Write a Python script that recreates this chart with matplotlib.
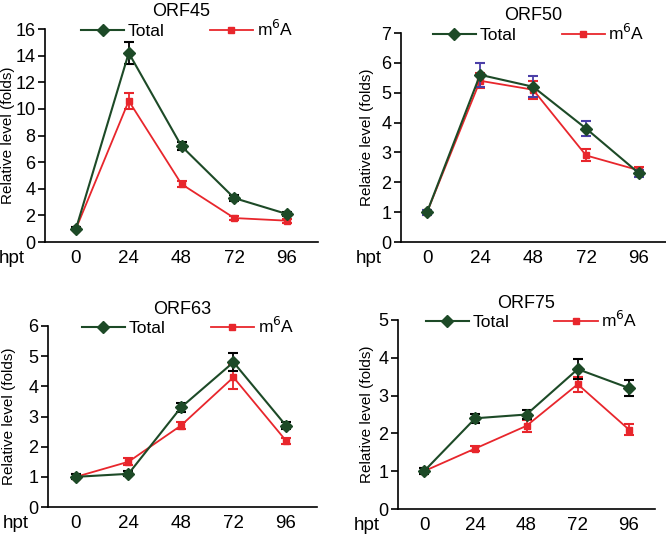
import numpy as np
import matplotlib.pyplot as plt
from matplotlib.lines import Line2D

plt.rcParams['font.family'] = ['Liberation Sans', 'DejaVu Sans']

hpt = [0, 24, 48, 72, 96]

# ORF45
orf45_total = [1.0, 14.2, 7.2, 3.3, 2.1]
orf45_total_err = [0.1, 0.8, 0.3, 0.2, 0.15]
orf45_m6a = [1.0, 10.6, 4.35, 1.8, 1.6]
orf45_m6a_err = [0.1, 0.6, 0.2, 0.15, 0.15]

# ORF50
orf50_total = [1.0, 5.6, 5.2, 3.8, 2.3]
orf50_total_err = [0.08, 0.4, 0.35, 0.25, 0.12]
orf50_m6a = [1.0, 5.4, 5.1, 2.9, 2.4]
orf50_m6a_err = [0.08, 0.25, 0.3, 0.2, 0.1]

# ORF63
orf63_total = [1.0, 1.1, 3.3, 4.8, 2.7]
orf63_total_err = [0.08, 0.08, 0.15, 0.3, 0.13]
orf63_m6a = [1.0, 1.5, 2.7, 4.3, 2.2]
orf63_m6a_err = [0.08, 0.12, 0.12, 0.4, 0.1]

# ORF75
orf75_total = [1.0, 2.4, 2.5, 3.7, 3.2]
orf75_total_err = [0.08, 0.12, 0.13, 0.27, 0.2]
orf75_m6a = [1.0, 1.6, 2.2, 3.3, 2.1]
orf75_m6a_err = [0.08, 0.07, 0.15, 0.2, 0.15]

green = '#1d4a27'
red = '#e8262c'
blue = '#4b3fa8'

# title, data, ylim/ticks, axes box in px (left, top, right, bottom), xlim,
# errbar colour for Total, ylabel right edge in px
panels = [
    ('ORF45', orf45_total, orf45_total_err, orf45_m6a, orf45_m6a_err,
     16, 2, (45, 29, 318, 242), (-14.1, 110.1), 'black', 15),
    ('ORF50', orf50_total, orf50_total_err, orf50_m6a, orf50_m6a_err,
     7, 1, (401, 33, 666, 242), (-11.8, 108.2), blue, 374),
    ('ORF63', orf63_total, orf63_total_err, orf63_m6a, orf63_m6a_err,
     6, 1, (48, 326, 317, 507), (-12.8, 110.2), 'black', 16),
    ('ORF75', orf75_total, orf75_total_err, orf75_m6a, orf75_m6a_err,
     5, 1, (398, 320, 655, 509), (-12.2, 108.2), 'black', 374),
]

W, H = 666, 537
fig = plt.figure(figsize=(W / 100, H / 100), dpi=100)

for title, tot, tot_err, m6a, m6a_err, ymax, ystep, (x0, y0, x1, y1), xl, ecol, lab_x in panels:
    ax = fig.add_axes([x0 / W, 1 - y1 / H, (x1 - x0) / W, (y1 - y0) / H])
    ax.errorbar(hpt, m6a, yerr=m6a_err, color=red, marker='s', markersize=5,
                lw=1.3, ecolor=red, elinewidth=1.3, capsize=3.5, capthick=1.5, zorder=2)
    ax.errorbar(hpt, tot, yerr=tot_err, color=green, marker='D', markersize=6,
                lw=1.5, ecolor=ecol, elinewidth=1.3, capsize=3.5, capthick=1.5, zorder=3)
    ax.set_xlim(*xl)
    ax.set_ylim(0, ymax)
    ax.set_yticks(np.arange(0, ymax + 0.01, ystep))
    ax.set_xticks(hpt)
    ax.tick_params(axis='y', direction='out', length=5, width=1.2, labelsize=13, pad=2)
    ax.tick_params(axis='x', length=0, labelsize=13.5, pad=6)
    ax.spines['top'].set_visible(False)
    ax.spines['right'].set_visible(False)
    ax.spines['left'].set_linewidth(1.2)
    ax.spines['bottom'].set_linewidth(1.2)
    ax.set_ylabel('Relative level (folds)', fontsize=11)
    ax.yaxis.set_label_coords((lab_x - x0) / (x1 - x0), 0.5)
    ax.set_title(title, fontsize=13, pad=9)
    ax.annotate('hpt', xy=(-0.12, 0), xycoords='axes fraction', xytext=(0, -6),
                textcoords='offset points', fontsize=13.5, ha='center', va='top')
    handles = [
        Line2D([], [], color=green, marker='D', markersize=6, lw=1.5),
        Line2D([], [], color=red, marker='s', markersize=5, lw=1.3),
    ]
    ax.legend(handles, ['Total', 'm$^6$A'], loc='center', bbox_to_anchor=(0.52, 1.0),
              ncol=2, frameon=False, fontsize=12.5, handlelength=2.5,
              columnspacing=2.6, handletextpad=0.2, borderpad=0)

fig.savefig('out.png', dpi=100)
